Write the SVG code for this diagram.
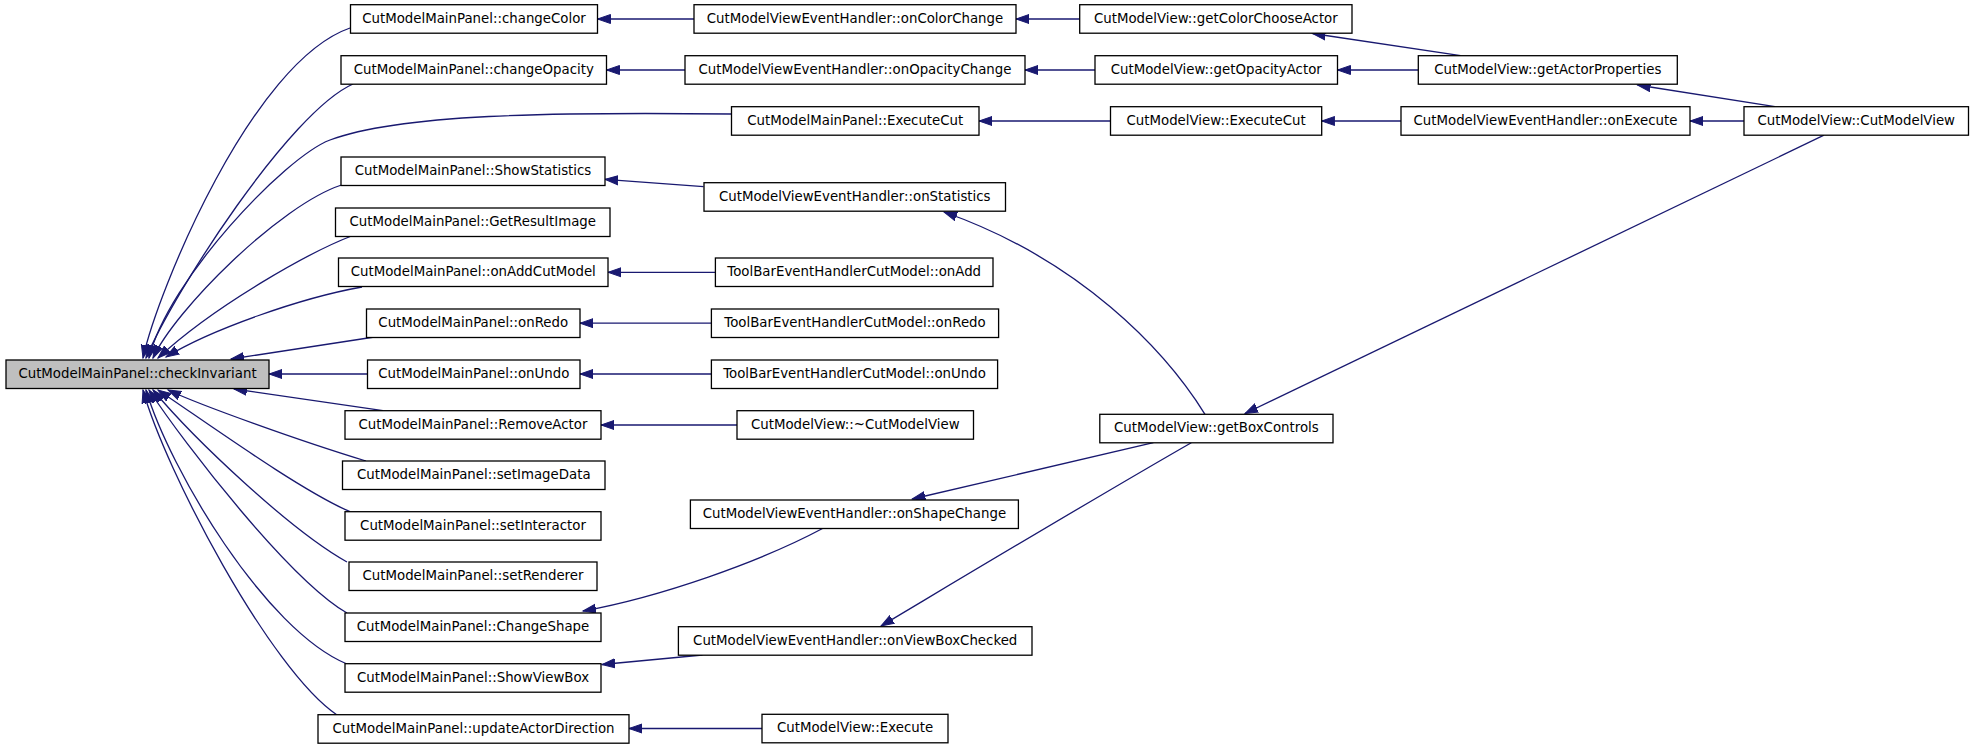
<svg xmlns="http://www.w3.org/2000/svg" width="1973" height="747" viewBox="0 0 1973 747">
<style>
.node rect{fill:#ffffff;stroke:#000000;stroke-width:1.3}
.node.hl rect{fill:#bfbfbf}
.node text{font-family:"DejaVu Sans","Liberation Sans",sans-serif;font-size:13.33px;fill:#000000;text-anchor:middle}
.edges path{fill:none;stroke:#191970;stroke-width:1.3;marker-end:url(#ah)}
</style>
<defs>
<marker id="ah" markerUnits="userSpaceOnUse" markerWidth="15" markerHeight="11" refX="13" refY="5.5" orient="auto" viewBox="0 0 15 11">
<path d="M0,1 L13,5.5 L0,10 z" fill="#191970" stroke="#191970" stroke-width="1"/>
</marker>
</defs>
<rect x="0" y="0" width="1973" height="747" fill="#ffffff"/>
<g id="edges" class="edges">
<path d="M350,28 C252,62 158,290 143,358"/>
<path d="M353,84 C290,112 175,290 146,358"/>
<path d="M731.5,114 C550,112 400,114 330,140 C285,157 168,280 149,358"/>
<path d="M341.5,185 C280,205 175,310 153,358"/>
<path d="M351.5,236 C310,252 215,305 158,358"/>
<path d="M362,287 C300,298 210,330 166,357"/>
<path d="M374.5,337 L231,359"/>
<path d="M367.5,374 L269,374"/>
<path d="M383,410.7 L234,389"/>
<path d="M366,461 C300,441 200,405 168,390"/>
<path d="M350,511.7 C300,490 210,425 158,390"/>
<path d="M347,562 C290,530 195,440 153,390"/>
<path d="M347,613 C290,580 185,445 149,390"/>
<path d="M347,664 C265,630 170,470 146,390"/>
<path d="M337,715 C270,670 165,470 143,390"/>
<path d="M694,19 L597.5,19"/>
<path d="M685,70 L606.5,70"/>
<path d="M1110.5,121 L979,121"/>
<path d="M703.5,186.7 L605,179.3"/>
<path d="M715.4,272.3 L608,272.3"/>
<path d="M711.4,323.2 L580,323.2"/>
<path d="M711.4,374 L580,374"/>
<path d="M737,425 L601,425"/>
<path d="M823,528.3 C760,562 660,597 583,611"/>
<path d="M702.5,655 L602,664.5"/>
<path d="M762,728.5 L629,728.5"/>
<path d="M1079.7,19 L1016,19"/>
<path d="M1095,70 L1025,70"/>
<path d="M1401,121 L1321.7,121"/>
<path d="M1205,414.3 C1165,350 1080,260 944,212"/>
<path d="M1153.4,442.7 L912.3,499"/>
<path d="M1191.3,442.7 C1100,495 1000,555 881,626"/>
<path d="M1460.7,55.7 L1312.5,33.5"/>
<path d="M1418.3,70 L1337.5,70"/>
<path d="M1775,106.7 L1637.5,85"/>
<path d="M1744,121 L1690,121"/>
<path d="M1824,135.2 L1245,413.5"/>
</g>
<g id="n0" class="node hl"><rect x="6" y="360" width="263" height="28.5"/><text x="137.5" y="378">CutModelMainPanel::checkInvariant</text></g>
<g id="n1" class="node"><rect x="350.5" y="4.7" width="247" height="28.5"/><text x="474" y="22.7">CutModelMainPanel::changeColor</text></g>
<g id="n2" class="node"><rect x="341" y="55.7" width="265.5" height="28.5"/><text x="473.75" y="73.7">CutModelMainPanel::changeOpacity</text></g>
<g id="n3" class="node"><rect x="341" y="157" width="264" height="28.5"/><text x="473" y="175">CutModelMainPanel::ShowStatistics</text></g>
<g id="n4" class="node"><rect x="335.5" y="208" width="274.5" height="28.5"/><text x="472.75" y="226">CutModelMainPanel::GetResultImage</text></g>
<g id="n5" class="node"><rect x="338.5" y="258" width="269.5" height="28.5"/><text x="473.25" y="276">CutModelMainPanel::onAddCutModel</text></g>
<g id="n6" class="node"><rect x="366.5" y="309" width="213.5" height="28.5"/><text x="473.25" y="327">CutModelMainPanel::onRedo</text></g>
<g id="n7" class="node"><rect x="367.5" y="360" width="212.5" height="28.5"/><text x="473.75" y="378">CutModelMainPanel::onUndo</text></g>
<g id="n8" class="node"><rect x="345" y="410.7" width="256" height="28.5"/><text x="473" y="428.7">CutModelMainPanel::RemoveActor</text></g>
<g id="n9" class="node"><rect x="342.5" y="461" width="262.5" height="28.5"/><text x="473.75" y="479">CutModelMainPanel::setImageData</text></g>
<g id="n10" class="node"><rect x="345" y="511.7" width="256" height="28.5"/><text x="473" y="529.7">CutModelMainPanel::setInteractor</text></g>
<g id="n11" class="node"><rect x="349" y="562" width="248" height="28.5"/><text x="473" y="580">CutModelMainPanel::setRenderer</text></g>
<g id="n12" class="node"><rect x="345" y="613" width="256" height="28.5"/><text x="473" y="631">CutModelMainPanel::ChangeShape</text></g>
<g id="n13" class="node"><rect x="345" y="663.7" width="256" height="28.5"/><text x="473" y="681.7">CutModelMainPanel::ShowViewBox</text></g>
<g id="n14" class="node"><rect x="318" y="714.7" width="311" height="28.5"/><text x="473.5" y="732.7">CutModelMainPanel::updateActorDirection</text></g>
<g id="n15" class="node"><rect x="694" y="4.7" width="322" height="28.5"/><text x="855" y="22.7">CutModelViewEventHandler::onColorChange</text></g>
<g id="n16" class="node"><rect x="685" y="55.7" width="340" height="28.5"/><text x="855" y="73.7">CutModelViewEventHandler::onOpacityChange</text></g>
<g id="n17" class="node"><rect x="731.5" y="106.7" width="247.5" height="28.5"/><text x="855.25" y="124.7">CutModelMainPanel::ExecuteCut</text></g>
<g id="n18" class="node"><rect x="704" y="182.7" width="301.5" height="28.5"/><text x="854.75" y="200.7">CutModelViewEventHandler::onStatistics</text></g>
<g id="n19" class="node"><rect x="715.4" y="258" width="277.6" height="28.5"/><text x="854.2" y="276">ToolBarEventHandlerCutModel::onAdd</text></g>
<g id="n20" class="node"><rect x="711.4" y="309" width="287.2" height="28.5"/><text x="855" y="327">ToolBarEventHandlerCutModel::onRedo</text></g>
<g id="n21" class="node"><rect x="711.4" y="360" width="286.2" height="28.5"/><text x="854.5" y="378">ToolBarEventHandlerCutModel::onUndo</text></g>
<g id="n22" class="node"><rect x="737" y="410.7" width="236.5" height="28.5"/><text x="855.25" y="428.7">CutModelView::~CutModelView</text></g>
<g id="n23" class="node"><rect x="690.4" y="500" width="328" height="28.5"/><text x="854.4" y="518">CutModelViewEventHandler::onShapeChange</text></g>
<g id="n24" class="node"><rect x="678.4" y="626.7" width="353.6" height="28.5"/><text x="855.2" y="644.7">CutModelViewEventHandler::onViewBoxChecked</text></g>
<g id="n25" class="node"><rect x="762" y="714.3" width="186" height="28.5"/><text x="855" y="732.3">CutModelView::Execute</text></g>
<g id="n26" class="node"><rect x="1079.7" y="4.7" width="272.3" height="28.5"/><text x="1215.85" y="22.7">CutModelView::getColorChooseActor</text></g>
<g id="n27" class="node"><rect x="1095" y="55.7" width="242.5" height="28.5"/><text x="1216.25" y="73.7">CutModelView::getOpacityActor</text></g>
<g id="n28" class="node"><rect x="1110.5" y="106.7" width="211.2" height="28.5"/><text x="1216.1" y="124.7">CutModelView::ExecuteCut</text></g>
<g id="n29" class="node"><rect x="1099.8" y="414.3" width="233.2" height="28.5"/><text x="1216.4" y="432.3">CutModelView::getBoxControls</text></g>
<g id="n30" class="node"><rect x="1418.3" y="55.7" width="259" height="28.5"/><text x="1547.8" y="73.7">CutModelView::getActorProperties</text></g>
<g id="n31" class="node"><rect x="1401" y="106.7" width="289" height="28.5"/><text x="1545.5" y="124.7">CutModelViewEventHandler::onExecute</text></g>
<g id="n32" class="node"><rect x="1744" y="106.7" width="224.5" height="28.5"/><text x="1856.25" y="124.7">CutModelView::CutModelView</text></g>
</svg>
